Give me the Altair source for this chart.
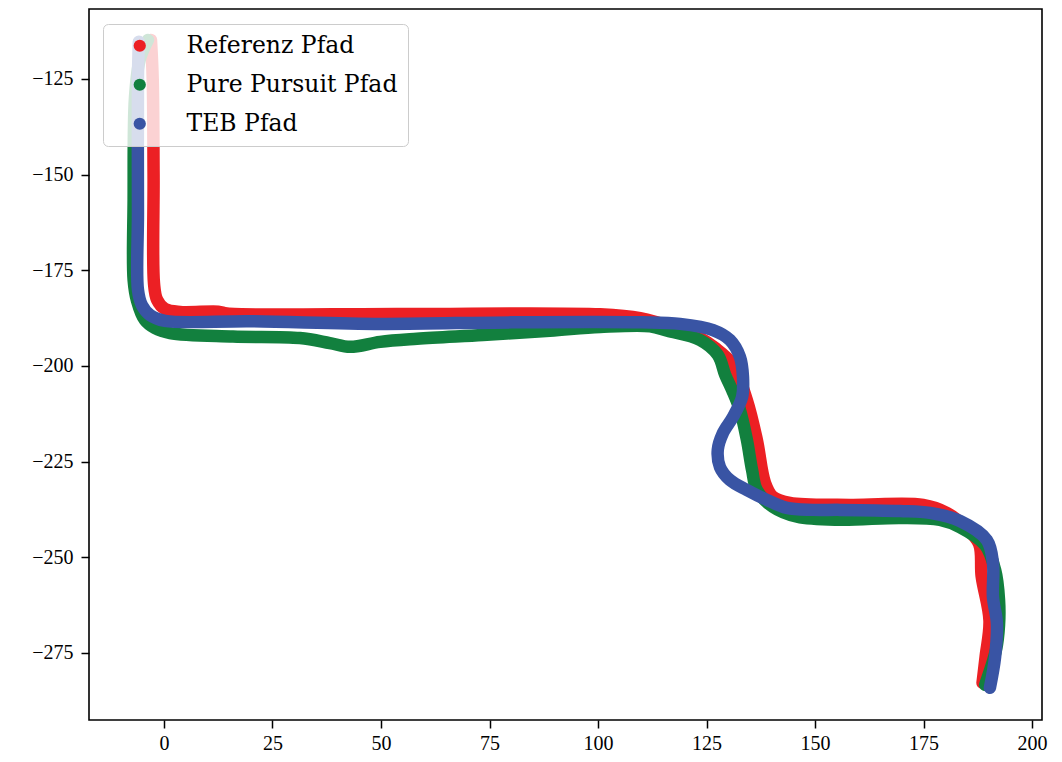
import altair as alt
import pandas as pd

# ---- data ----
series_names = ["Referenz Pfad", "Pure Pursuit Pfad", "TEB Pfad"]
series_colors = ["#EC2024", "#12803E", "#3954A4"]

ref_x = [-3.0, -2.6, -2.4, -2.3, -1.6, 0.2, 3.7, 12.5, 14.5, 54.4, 100.5, 109.7,
         117.7, 123.5, 127.0, 131.1, 134.3, 136.6, 138.5, 140.3, 144.2, 158.1,
         174.9, 180.4, 184.6, 187.8, 188.4, 190.2, 189.3, 188.6]
ref_y = [-114.8, -125.0, -150.0, -178.5, -182.7, -185.1, -185.9, -185.8, -186.3,
         -186.4, -186.5, -187.5, -190.1, -192.7, -195.3, -199.7, -208.9, -219.3,
         -230.6, -234.2, -235.8, -236.3, -236.3, -238.4, -242.1, -246.5, -255.0,
         -266.5, -276.0, -282.8]

pp_x = [-3.7, -5.6, -6.7, -7.0, -7.0, -6.2, -4.4, -2.1, 1.4, 15.9, 31.3, 38.2,
        42.9, 49.8, 58.3, 73.5, 88.9, 100.5, 112.0, 116.0, 123.5, 127.6, 129.3,
        130.9, 132.7, 134.3, 135.5, 136.6, 140.3, 145.9, 155.8, 169.6, 178.8,
        183.4, 189.2, 191.5, 192.4, 192.4, 191.7, 189.2]
pp_y = [-114.8, -120.0, -130.0, -156.6, -177.5, -183.0, -188.0, -190.1, -191.4,
        -192.3, -192.7, -194.0, -195.0, -193.7, -192.9, -191.9, -190.8, -189.8,
        -189.6, -190.8, -193.2, -197.1, -202.3, -206.3, -211.5, -219.3, -227.2,
        -232.4, -236.8, -239.4, -240.2, -239.7, -240.2, -242.1, -246.8, -253.3,
        -261.1, -267.7, -274.2, -283.3]

teb_x = [-5.8, -6.0, -6.0, -6.0, -5.1, -3.2, 0.2, 20.0, 50.0, 80.0, 110.0, 118.9,
         126.5, 130.4, 132.7, 133.4, 133.2, 131.1, 128.8, 127.6, 128.1, 130.4,
         134.3, 138.9, 143.5, 149.5, 155.8, 169.6, 176.5, 183.4, 189.6, 191.0,
         191.0, 191.9, 191.5, 190.3]
teb_y = [-115.3, -125.0, -160.0, -180.1, -184.1, -186.7, -188.2, -188.3, -189.0,
         -188.6, -188.6, -189.0, -190.6, -193.2, -197.6, -202.8, -208.1, -213.3,
         -217.5, -221.9, -226.4, -229.8, -232.4, -235.0, -237.1, -237.6, -237.6,
         -237.9, -238.4, -240.5, -245.5, -251.5, -260.4, -267.1, -276.0, -284.1]

x_ticks = [0, 25, 50, 75, 100, 125, 150, 175, 200]
y_ticks = [-275, -250, -225, -200, -175, -150, -125]

rows = []
for name, xs, ys in zip(series_names, [ref_x, pp_x, teb_x], [ref_y, pp_y, teb_y]):
    for i, (xv, yv) in enumerate(zip(xs, ys)):
        rows.append({"series": name, "i": i, "x": xv, "y": yv})
df = pd.DataFrame(rows)

x_scale = alt.Scale(domain=[-17.28, 202.3], nice=False, zero=False)
y_scale = alt.Scale(domain=[-292.51, -106.71], nice=False, zero=False)
c_scale = alt.Scale(domain=series_names, range=series_colors)

x_axis = alt.Axis(values=x_ticks, format="d", title=None, grid=False, domain=False,
                  tickColor="black", tickWidth=1.5, tickSize=8,
                  labelFont="Liberation Serif", labelFontSize=20, labelColor="black",
                  labelPadding=5, labelFlush=False, labelOverlap=False)
y_axis = alt.Axis(values=y_ticks, format="d", title=None, grid=False, domain=False,
                  tickColor="black", tickWidth=1.5, tickSize=8,
                  labelFont="Liberation Serif", labelFontSize=20, labelColor="black",
                  labelPadding=8, labelFlush=False, labelOverlap=False)

legend = alt.Legend(title=None, orient="none", legendX=14, legendY=15,
                    symbolType="circle", symbolSize=150, symbolStrokeWidth=0,
                    symbolOffset=15, labelOffset=35, labelLimit=400,
                    labelFont="DejaVu Serif", labelFontSize=23.5, labelColor="black",
                    padding=10, rowPadding=14,
                    fillColor="rgba(255,255,255,0.8)", strokeColor="#cccccc",
                    cornerRadius=5)


def base(name):
    return alt.Chart(df).transform_filter(alt.datum.series == name)


def point_layer(name):
    return base(name).mark_circle(size=100, opacity=1).encode(
        x=alt.X("x:Q", scale=x_scale, axis=x_axis),
        y=alt.Y("y:Q", scale=y_scale, axis=y_axis),
        color=alt.Color("series:N", scale=c_scale, legend=legend),
    )


def line_layer(name):
    return base(name).mark_line(strokeWidth=12.5, strokeCap="round", strokeJoin="round",
                                interpolate="catmull-rom").encode(
        x=alt.X("x:Q", scale=x_scale, axis=x_axis),
        y=alt.Y("y:Q", scale=y_scale, axis=y_axis),
        color=alt.Color("series:N", scale=c_scale, legend=None),
        order=alt.Order("i:Q"),
    )


layers = []
for n in series_names:
    layers.append(point_layer(n))
    layers.append(line_layer(n))

chart = (
    alt.layer(*layers)
    .properties(width=953, height=711, autosize="none",
                padding={"left": 89, "top": 9, "right": 20, "bottom": 42},
                background="white")
    .configure_view(stroke="black", strokeWidth=1.6)
)

chart.save("out.html", embed_options={"renderer": "svg", "actions": False})
